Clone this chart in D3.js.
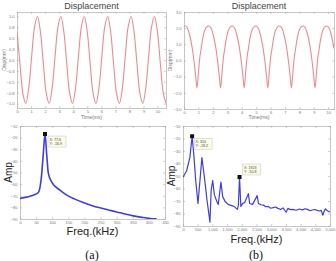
<!DOCTYPE html>
<html>
<head>
<meta charset="utf-8">
<script src="https://cdn.jsdelivr.net/npm/d3@7"></script>
<style>
  html, body { margin: 0; padding: 0; background: #fff; }
  svg { display: block; font-family: "Liberation Sans", Arial, sans-serif; }
</style>
</head>
<body>
<svg id="chart" width="336" height="261"></svg>
<script>
// ---- data ------------------------------------------------------------------
// (a) top: displacement vs time
const timeA = [0, 0.208, 0.416, 0.624, 0.832, 1.041, 1.249, 1.457, 1.665, 1.873, 2.081, 2.289, 2.497,
  2.706, 2.914, 3.122, 3.330, 3.538, 3.746, 3.954, 4.162, 4.370, 4.579, 4.787, 4.995, 5.203, 5.411,
  5.619, 5.827, 6.035, 6.243, 6.452, 6.660, 6.868, 7.076, 7.284, 7.492, 7.700, 7.908, 8.116, 8.325,
  8.533, 8.741, 8.949, 9.157, 9.365, 9.573, 9.781, 9.989, 10.197, 10.406, 10.614];
const dispA = [0.652, -0.075, -0.758, -0.997, -0.652, 0.075, 0.758, 0.997,
  0.652, -0.075, -0.758, -0.997, -0.652, 0.075, 0.758, 0.997,
  0.652, -0.075, -0.758, -0.997, -0.652, 0.075, 0.758, 0.997,
  0.652, -0.075, -0.758, -0.997, -0.652, 0.075, 0.758, 0.997,
  0.652, -0.075, -0.758, -0.997, -0.652, 0.075, 0.758, 0.997,
  0.652, -0.075, -0.758, -0.997, -0.652, 0.075, 0.758, 0.997,
  0.652, -0.075, -0.758, -0.997];

// (b) top: displacement vs time
const timeB = [0, 0.095, 0.234, 0.373, 0.546, 0.685, 0.823,
  0.900, 1.004, 1.108, 1.177, 1.281, 1.420, 1.559, 1.732, 1.871, 2.010, 2.183, 2.322, 2.460,
  2.537, 2.641, 2.745, 2.814, 2.918, 3.057, 3.196, 3.369, 3.508, 3.647, 3.820, 3.959, 4.097,
  4.174, 4.278, 4.382, 4.451, 4.555, 4.694, 4.833, 5.006, 5.145, 5.284, 5.457, 5.596, 5.734,
  5.811, 5.915, 6.019, 6.088, 6.192, 6.331, 6.470, 6.643, 6.782, 6.921, 7.094, 7.233, 7.371,
  7.448, 7.552, 7.656, 7.725, 7.829, 7.968, 8.107, 8.280, 8.419, 8.558, 8.731, 8.870, 9.008,
  9.085, 9.189, 9.293, 9.362, 9.466, 9.605, 9.744, 9.917, 10.056, 10.195, 10.368, 10.4];
const dispB = [2.12, 2.13, 2.01, 1.64, 0.90, 0.03, -1.08,
  -1.70, -0.71, 0.28, 0.65, 1.27, 1.82, 2.07, 2.13, 2.01, 1.64, 0.90, 0.03, -1.08,
  -1.70, -0.71, 0.28, 0.65, 1.27, 1.82, 2.07, 2.13, 2.01, 1.64, 0.90, 0.03, -1.08,
  -1.70, -0.71, 0.28, 0.65, 1.27, 1.82, 2.07, 2.13, 2.01, 1.64, 0.90, 0.03, -1.08,
  -1.70, -0.71, 0.28, 0.65, 1.27, 1.82, 2.07, 2.13, 2.01, 1.64, 0.90, 0.03, -1.08,
  -1.70, -0.71, 0.28, 0.65, 1.27, 1.82, 2.07, 2.13, 2.01, 1.64, 0.90, 0.03, -1.08,
  -1.70, -0.71, 0.28, 0.65, 1.27, 1.82, 2.07, 2.13, 2.01, 1.64, 0.90, 0.75];

// (a) bottom: spectrum
const freqA = [0, 20, 41, 57, 67, 72, 77.6, 83, 88, 98, 124, 145, 170, 196, 222, 248, 274, 300, 326, 352, 378, 403, 424];
const ampA = [-72.3, -71.2, -69.5, -67.2, -52.2, -35.0, -16.9, -35.0, -50.8, -58.0, -65.2, -69.5,
  -72.9, -75.8, -78.3, -80.4, -82.2, -83.9, -85.7, -87.3, -88.6, -89.6, -89.9];
const peaksA = [{ freq: 77.6, amp: -16.9, dx: 3, dy: 2 }];

// (b) bottom: spectrum
const freqB = [0, 123, 233, 310, 367, 433, 510, 567, 643, 700, 767, 817, 917, 957, 1010, 1067, 1150,
  1200, 1290, 1350, 1433, 1533, 1633, 1733, 1850, 1883, 1923, 1967, 2033, 2100, 2223, 2267, 2367,
  2523, 2567, 2650, 2733, 2820, 2900, 2980, 3067, 3150, 3233, 3320, 3400, 3510, 3567, 3650, 3733,
  3850, 3957, 4067, 4150, 4233, 4320, 4400, 4480, 4567, 4650, 4700, 4757, 4800, 4843, 4900, 4957, 5000];
const ampB = [-51.0, -45.8, -35.3, -18.2, -32.7, -53.7, -72.0, -56.3, -35.3, -45.8, -58.9, -69.4,
  -86.9, -61.5, -53.7, -64.9, -70.4, -72.7, -54.9, -66.5, -70.4, -72.7, -73.5, -74.3, -76.7, -73.5,
  -50.8, -74.3, -71.9, -71.2, -64.1, -72.0, -72.7, -65.7, -72.0, -73.0, -73.3, -74.6, -74.3, -75.8,
  -75.3, -74.8, -75.9, -76.8, -75.5, -79.0, -75.9, -76.9, -76.7, -77.4, -76.4, -77.1, -76.2, -76.7,
  -77.8, -77.2, -76.8, -77.5, -78.0, -77.5, -81.4, -78.2, -76.3, -77.6, -78.5, -78.6];
const peaksB = [{ freq: 310, amp: -18.2, dx: 2, dy: 2 }, { freq: 1923, amp: -50.8, dx: 3, dy: -13 }];

// tick labels
const timeTicks = [0, 1, 2, 3, 4, 5, 6, 7, 8, 9, 10];
const dispTicksA = [-1, -0.75, -0.5, -0.25, 0, 0.25, 0.5, 0.75, 1];
const dispTicksB = [-3, -2, -1, 0, 1, 2, 3];
const freqTicksA = [0, 50, 100, 150, 200, 250, 300, 350, 400, 450];
const freqTicksB = [0, 500, 1000, 1500, 2000, 2500, 3000, 3500, 4000, 4500, 5000];
const ampTicks = [-90, -80, -70, -60, -50, -40, -30, -20, -10];

const svg = d3.select('#chart');
const RED = '#ef8a90', BLUE = '#3e3ee0';
let clipId = 0;

// one MATLAB-like axes box with inward ticks on all four sides
function panel(cfg) {
  const x = d3.scaleLinear().domain(cfg.xDomain).range([cfg.left, cfg.right]);
  const y = d3.scaleLinear().domain(cfg.yDomain).range([cfg.bottom, cfg.top]);
  const g = svg.append('g');

  const styleAxis = sel => {
    sel.select('.domain').attr('stroke', '#a0a0a0').attr('stroke-width', 0.6);
    sel.selectAll('.tick line').attr('stroke', '#a0a0a0').attr('stroke-width', 0.5);
    sel.selectAll('text').attr('fill', '#777').style('font-size', '4px');
  };

  g.append('g').attr('transform', `translate(0,${cfg.bottom})`)
    .call(d3.axisBottom(x).tickValues(cfg.xTicks).tickSize(-2).tickPadding(2.5).tickSizeOuter(0))
    .call(styleAxis);
  g.append('g').attr('transform', `translate(0,${cfg.top})`)
    .call(d3.axisTop(x).tickValues(cfg.xTicks).tickSize(-2).tickFormat('').tickSizeOuter(0))
    .call(styleAxis);
  g.append('g').attr('transform', `translate(${cfg.left},0)`)
    .call(d3.axisLeft(y).tickValues(cfg.yTicks).tickSize(-2).tickPadding(2.5).tickSizeOuter(0))
    .call(styleAxis);
  g.append('g').attr('transform', `translate(${cfg.right},0)`)
    .call(d3.axisRight(y).tickValues(cfg.yTicks).tickSize(-2).tickFormat('').tickSizeOuter(0))
    .call(styleAxis);

  const id = 'clip' + (clipId++);
  svg.append('clipPath').attr('id', id).append('rect')
    .attr('x', cfg.left).attr('y', cfg.top)
    .attr('width', cfg.right - cfg.left).attr('height', cfg.bottom - cfg.top);

  const plot = g.append('g').attr('clip-path', `url(#${id})`);
  const pts = cfg.xs.map((v, i) => [v, cfg.ys[i]]);
  plot.append('path')
    .attr('d', d3.line().x(d => x(d[0])).y(d => y(d[1])).curve(cfg.curve)(pts))
    .attr('fill', 'none')
    .attr('stroke', cfg.color)
    .attr('stroke-width', cfg.width)
    .attr('stroke-linejoin', 'round');

  const cx = (cfg.left + cfg.right) / 2;
  if (cfg.title) {
    g.append('text').attr('x', cx).attr('y', cfg.top - 3).attr('text-anchor', 'middle')
      .attr('fill', '#444').style('font-size', '9px').text(cfg.title);
  }
  g.append('text').attr('x', cx).attr('y', cfg.xLabelY).attr('text-anchor', 'middle')
    .attr('fill', cfg.labelColor).style('font-size', cfg.labelSize).text(cfg.xLabel);
  g.append('text')
    .attr('transform', `translate(${cfg.yLabelX},${(cfg.top + cfg.bottom) / 2}) rotate(-90)`)
    .attr('text-anchor', 'middle')
    .attr('fill', cfg.labelColor).style('font-size', cfg.yLabelSize || cfg.labelSize).text(cfg.yLabel);

  return { x, y, g };
}

function dataTips(p, peaks) {
  peaks.forEach(pk => {
    const px = p.x(pk.freq), py = p.y(pk.amp);
    const bx = px + pk.dx, by = py + pk.dy;
    p.g.append('rect').attr('x', bx).attr('y', by).attr('width', 18).attr('height', 11)
      .attr('fill', '#fbfbe6').attr('stroke', '#b8b8a8').attr('stroke-width', 0.4);
    p.g.append('text').attr('x', bx + 1.5).attr('y', by + 4.5)
      .attr('fill', '#444').style('font-size', '3.6px').text(`X: ${pk.freq}`);
    p.g.append('text').attr('x', bx + 1.5).attr('y', by + 9)
      .attr('fill', '#444').style('font-size', '3.6px').text(`Y: ${pk.amp}`);
    p.g.append('rect').attr('x', px - 2).attr('y', py - 2).attr('width', 4).attr('height', 4)
      .attr('fill', '#111');
  });
}

// top row
panel({
  left: 17, right: 166, top: 12, bottom: 108,
  xDomain: [0, 10.6], yDomain: [-1.1, 1.1], xTicks: timeTicks, yTicks: dispTicksA,
  xs: timeA, ys: dispA, curve: d3.curveCatmullRom.alpha(0.5), color: RED, width: 1.1,
  title: 'Displacement', xLabel: 'Time(ms)', yLabel: 'Disp(mm)',
  xLabelY: 119, yLabelX: 6, labelColor: '#777', labelSize: '5px'
});
panel({
  left: 184, right: 334, top: 12, bottom: 109,
  xDomain: [0, 10.4], yDomain: [-3, 3], xTicks: timeTicks, yTicks: dispTicksB,
  xs: timeB, ys: dispB, curve: d3.curveCatmullRom.alpha(0.5), color: RED, width: 1.1,
  title: 'Displacement', xLabel: 'Time(ms)', yLabel: 'Disp(mm)',
  xLabelY: 119, yLabelX: 172, labelColor: '#777', labelSize: '5px'
});

// bottom row
const pa = panel({
  left: 20, right: 165, top: 126, bottom: 219,
  xDomain: [0, 450], yDomain: [-90, -10], xTicks: freqTicksA, yTicks: ampTicks,
  xs: freqA, ys: ampA, curve: d3.curveMonotoneX, color: BLUE, width: 1.6,
  xLabel: 'Freq.(kHz)', yLabel: 'Amp',
  xLabelY: 235, yLabelX: 12, labelColor: '#222', labelSize: '11px', yLabelSize: '10px'
});
dataTips(pa, peaksA);

const pb = panel({
  left: 183, right: 330, top: 126, bottom: 226,
  xDomain: [0, 5000], yDomain: [-90, -10], xTicks: freqTicksB, yTicks: ampTicks,
  xs: freqB, ys: ampB, curve: d3.curveLinear, color: BLUE, width: 1.2,
  xLabel: 'Freq.(kHz)', yLabel: 'Amp',
  xLabelY: 243, yLabelX: 175, labelColor: '#222', labelSize: '11px', yLabelSize: '10px'
});
dataTips(pb, peaksB);

// sub-figure captions
svg.append('text').attr('x', 92).attr('y', 259).attr('text-anchor', 'middle')
  .attr('fill', '#111').style('font-family', '"Liberation Serif", serif').style('font-size', '12px').text('(a)');
svg.append('text').attr('x', 256).attr('y', 259).attr('text-anchor', 'middle')
  .attr('fill', '#111').style('font-family', '"Liberation Serif", serif').style('font-size', '12px').text('(b)');
</script>
</body>
</html>
